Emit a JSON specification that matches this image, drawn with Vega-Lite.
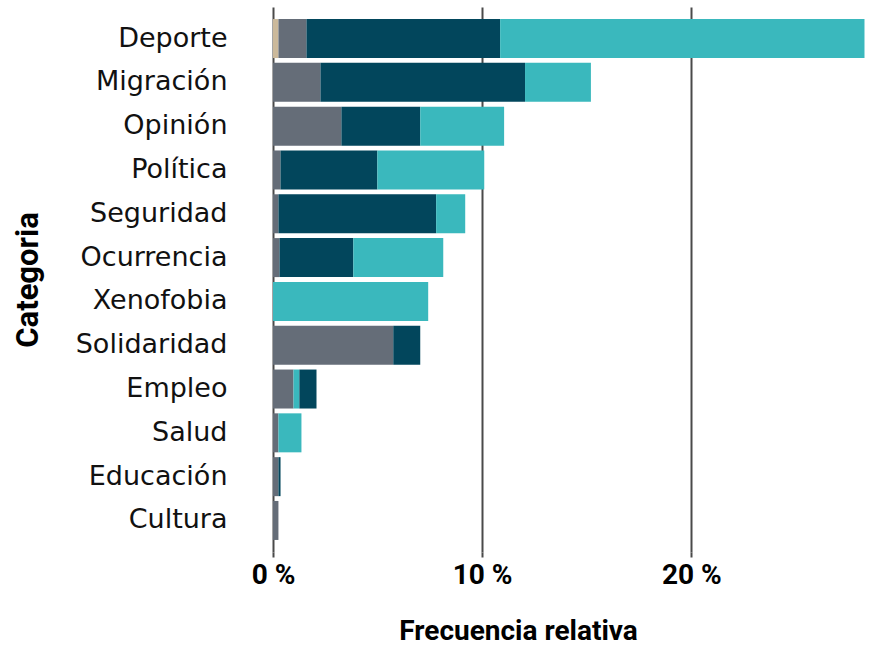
{
  "$schema": "https://vega.github.io/schema/vega-lite/v6.json",
  "autosize": {"type": "none"},
  "padding": {"left": 273, "top": 7, "right": 7, "bottom": 94},
  "width": 594,
  "height": 545,
  "background": "white",
  "config": {"view": {"stroke": null}},
  "data": {
    "values": [
      {"categoria": "Deporte", "tipo": "Otro", "orden": 1, "frecuencia": 0.26},
      {"categoria": "Deporte", "tipo": "Neutral", "orden": 2, "frecuencia": 1.34},
      {"categoria": "Deporte", "tipo": "Negativo", "orden": 3, "frecuencia": 9.26},
      {"categoria": "Deporte", "tipo": "Positivo", "orden": 4, "frecuencia": 17.42},
      {"categoria": "Migración", "tipo": "Neutral", "orden": 2, "frecuencia": 2.27},
      {"categoria": "Migración", "tipo": "Negativo", "orden": 3, "frecuencia": 9.78},
      {"categoria": "Migración", "tipo": "Positivo", "orden": 4, "frecuencia": 3.15},
      {"categoria": "Opinión", "tipo": "Neutral", "orden": 2, "frecuencia": 3.27},
      {"categoria": "Opinión", "tipo": "Negativo", "orden": 3, "frecuencia": 3.77},
      {"categoria": "Opinión", "tipo": "Positivo", "orden": 4, "frecuencia": 4.01},
      {"categoria": "Política", "tipo": "Neutral", "orden": 2, "frecuencia": 0.36},
      {"categoria": "Política", "tipo": "Negativo", "orden": 3, "frecuencia": 4.63},
      {"categoria": "Política", "tipo": "Positivo", "orden": 4, "frecuencia": 5.11},
      {"categoria": "Seguridad", "tipo": "Neutral", "orden": 2, "frecuencia": 0.26},
      {"categoria": "Seguridad", "tipo": "Negativo", "orden": 3, "frecuencia": 7.54},
      {"categoria": "Seguridad", "tipo": "Positivo", "orden": 4, "frecuencia": 1.39},
      {"categoria": "Ocurrencia", "tipo": "Neutral", "orden": 2, "frecuencia": 0.31},
      {"categoria": "Ocurrencia", "tipo": "Negativo", "orden": 3, "frecuencia": 3.53},
      {"categoria": "Ocurrencia", "tipo": "Positivo", "orden": 4, "frecuencia": 4.30},
      {"categoria": "Xenofobia", "tipo": "Positivo", "orden": 4, "frecuencia": 7.42},
      {"categoria": "Solidaridad", "tipo": "Neutral", "orden": 2, "frecuencia": 5.75},
      {"categoria": "Solidaridad", "tipo": "Negativo", "orden": 3, "frecuencia": 1.29},
      {"categoria": "Empleo", "tipo": "Neutral", "orden": 2, "frecuencia": 0.98},
      {"categoria": "Empleo", "tipo": "Positivo", "orden": 3, "frecuencia": 0.28},
      {"categoria": "Empleo", "tipo": "Negativo", "orden": 4, "frecuencia": 0.82},
      {"categoria": "Salud", "tipo": "Neutral", "orden": 2, "frecuencia": 0.26},
      {"categoria": "Salud", "tipo": "Positivo", "orden": 4, "frecuencia": 1.10},
      {"categoria": "Educación", "tipo": "Neutral", "orden": 2, "frecuencia": 0.26},
      {"categoria": "Educación", "tipo": "Negativo", "orden": 3, "frecuencia": 0.10},
      {"categoria": "Cultura", "tipo": "Neutral", "orden": 2, "frecuencia": 0.26}
    ]
  },
  "mark": {"type": "bar"},
  "encoding": {
    "y": {
      "field": "categoria",
      "type": "nominal",
      "sort": ["Deporte", "Migración", "Opinión", "Política", "Seguridad", "Ocurrencia", "Xenofobia", "Solidaridad", "Empleo", "Salud", "Educación", "Cultura"],
      "scale": {"paddingInner": 0.11, "paddingOuter": 0.275},
      "axis": {
        "title": "Categoria",
        "domain": false,
        "ticks": false,
        "tickSize": 0,
        "grid": false,
        "labelPadding": 46,
        "labelFont": "DejaVu Sans",
        "labelFontSize": 27,
        "labelColor": "#111111",
        "labelLimit": 300,
        "titleFont": "Roboto",
        "titleFontWeight": "bold",
        "titleFontSize": 31,
        "titleColor": "#000000",
        "titleX": -229,
        "titleBaseline": "bottom",
        "titleAngle": -90
      }
    },
    "x": {
      "field": "frecuencia",
      "type": "quantitative",
      "stack": "zero",
      "scale": {"domain": [0, 28.4], "nice": false, "zero": true},
      "axis": {
        "title": "Frecuencia relativa",
        "values": [0, 10, 20],
        "labelExpr": "datum.value + ' %'",
        "labelFlush": false,
        "domain": false,
        "grid": true,
        "gridColor": "#4a4a4a",
        "gridWidth": 2,
        "gridOpacity": 1,
        "ticks": true,
        "tickSize": 5,
        "tickColor": "#4a4a4a",
        "tickWidth": 2,
        "labelPadding": 4,
        "labelDx": 6,
        "labelFont": "Roboto",
        "labelFontWeight": "bold",
        "labelFontSize": 28,
        "labelColor": "#000000",
        "titleFont": "Roboto",
        "titleFontWeight": "bold",
        "titleFontSize": 28,
        "titleColor": "#000000",
        "titlePadding": 28,
        "titleX": 245
      }
    },
    "color": {
      "field": "tipo",
      "type": "nominal",
      "scale": {
        "domain": ["Otro", "Neutral", "Negativo", "Positivo"],
        "range": ["#cbb99b", "#656d78", "#02465c", "#3ab8bd"]
      },
      "legend": null
    },
    "order": {"field": "orden", "type": "quantitative"}
  }
}
